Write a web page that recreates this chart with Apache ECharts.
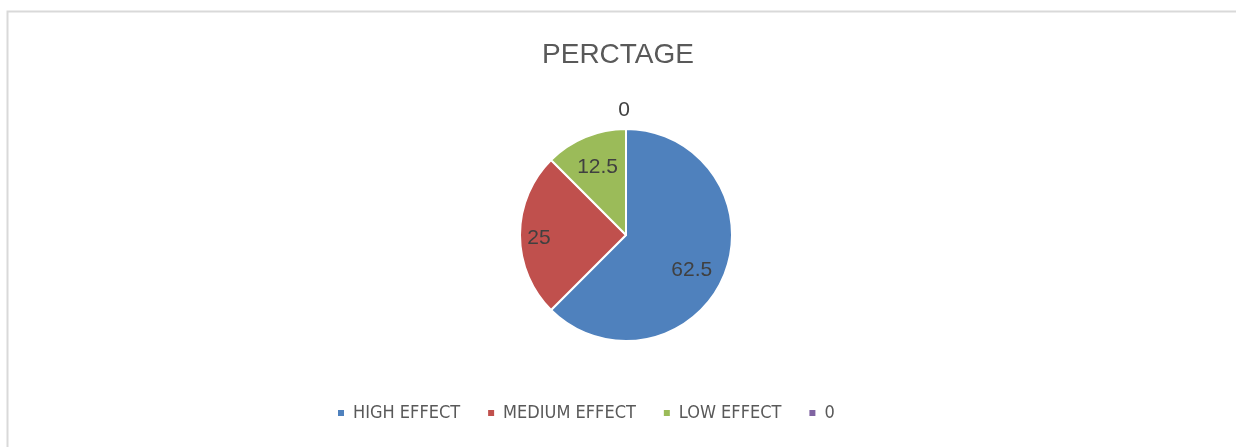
<!DOCTYPE html>
<html>
<head>
<meta charset="utf-8">
<script src="https://cdn.jsdelivr.net/npm/echarts@6/dist/echarts.min.js"></script>
<style>
  html, body { margin: 0; padding: 0; background: #fff; }
  #main { width: 1236px; height: 447px; }
</style>
</head>
<body>
<div id="main"></div>
<script>
// data
var categories = ['HIGH EFFECT', 'MEDIUM EFFECT', 'LOW EFFECT', '0'];
var values = [62.5, 25, 12.5, 0];
var colors = ['#4f81bd', '#c0504d', '#9bbb59', '#8064a2'];
// nudge labels to where the original put them
var labelOffsets = [[14, 14], [-31, 3], [-7, -16], [-2, -69]];

var chartDom = document.getElementById('main');
var myChart = echarts.init(chartDom);
var option;

var pieData = categories.map(function (name, i) {
  return {
    name: name,
    value: values[i],
    itemStyle: { color: colors[i] },
    label: { offset: labelOffsets[i] }
  };
});

option = {
  animation: false,
  graphic: [{
    type: 'rect',
    left: 5, top: 9,
    shape: { width: 1400, height: 600 },
    style: { fill: 'none', stroke: '#d9d9d9', lineWidth: 2 },
    silent: true
  }],
  title: {
    text: 'PERCTAGE',
    left: 'center',
    top: 41,
    padding: 0,
    textStyle: { fontFamily: 'Liberation Sans', fontSize: 28, fontWeight: 'normal', color: '#595959' }
  },
  legend: {
    left: 336,
    top: 404,
    padding: 0,
    itemWidth: 8,
    itemHeight: 8,
    itemGap: 26,
    icon: 'rect',
    data: categories,
    textStyle: { fontFamily: '"DejaVu Sans Condensed", "Liberation Sans"', fontSize: 18, color: '#595959', padding: [0, 0, 0, 3] }
  },
  series: [{
    type: 'pie',
    center: [626, 235],
    radius: 106,
    startAngle: 90,
    clockwise: true,
    avoidLabelOverlap: false,
    itemStyle: { borderColor: '#fff', borderWidth: 2 },
    label: {
      show: true,
      position: 'inside',
      formatter: '{c}',
      fontFamily: 'Liberation Sans',
      fontSize: 21,
      color: '#404040'
    },
    labelLine: { show: false },
    emphasis: { disabled: true },
    data: pieData
  }]
};

option && myChart.setOption(option);

window.addEventListener('resize', myChart.resize);
</script>
</body>
</html>
